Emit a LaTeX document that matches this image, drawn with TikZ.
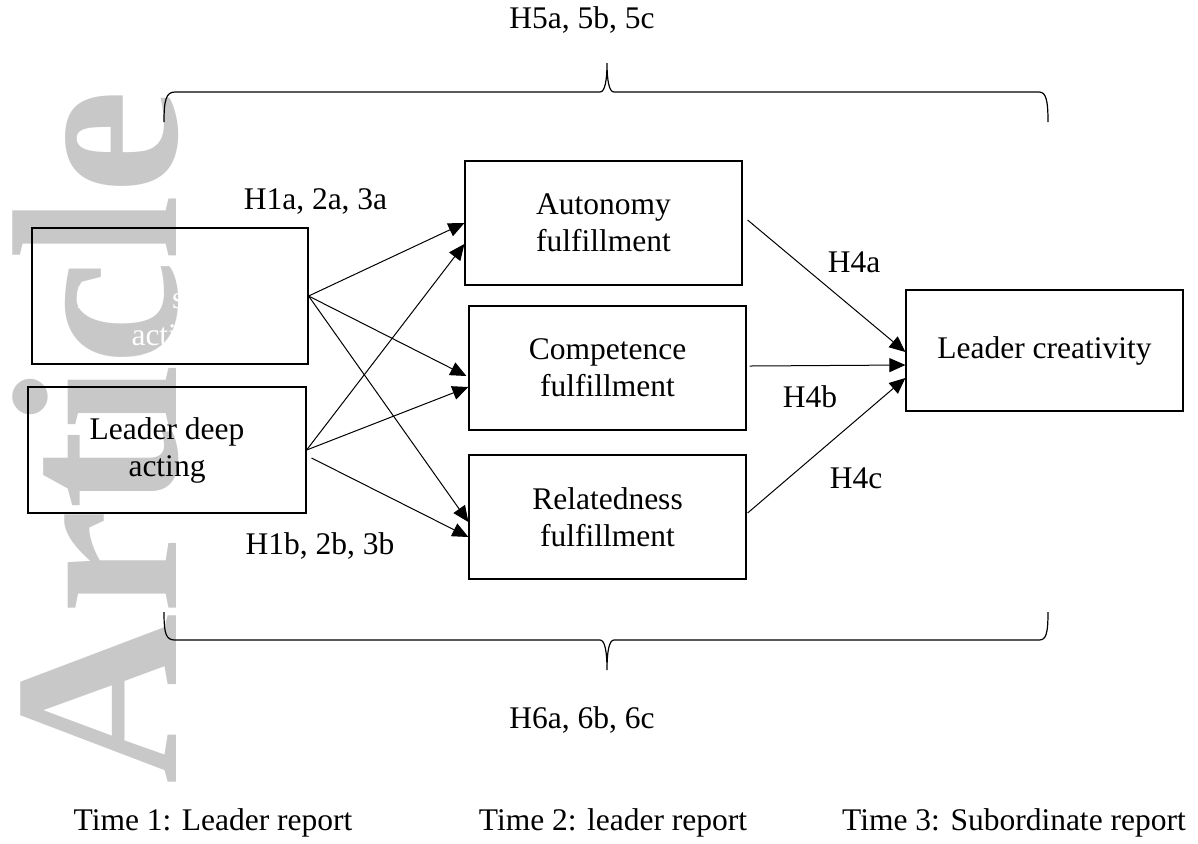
\documentclass[tikz,border=0pt]{standalone}
\usepackage{fontspec}
\setmainfont{Liberation Serif}
\usetikzlibrary{arrows.meta,calc}
\definecolor{wmgray}{RGB}{200,200,200}
\newcommand\mainfs{\fontsize{15.75}{18.5}\selectfont}
\begin{document}
\begin{tikzpicture}[x=0.5pt,y=-0.5pt,
  box/.style={draw, line width=0.6pt, inner sep=0pt, align=center,
    minimum width=138.5pt, minimum height=62pt, font=\mainfs},
  lbl/.style={anchor=base, inner sep=0pt, font=\mainfs},
  arr/.style={-{Triangle[length=8pt,width=7pt]}, line width=0.5pt},
  bracestyle/.style={line width=0.6pt},
  wmtext/.style={text=wmgray, inner sep=0pt, font=\fontsize{118}{118}\selectfont\bfseries}]
\useasboundingbox (0,0) rectangle (1198,843);

% watermark
\node[wmtext, rotate=90, anchor=base west] (wmark) at (176,785) {Article};

% boxes
\node[box] (auto) at (603.5,223) {Autonomy\\fulfillment};
\node[box] (comp) at (607.5,368) {Competence\\fulfillment};
\node[box] (rel) at (607.5,517) {Relatedness\\fulfillment};
\node[box, minimum height=60.5pt] (lc) at (1044.5,350.5) {Leader creativity};
\node[box, minimum width=138pt, minimum height=68pt] (sa) at (170,296) {};
\node[text=white, inner sep=0pt, align=center, font=\mainfs] (satext) at (170,319) {Leader surface\\acting};
\node[box, minimum width=139pt, minimum height=63pt] (da) at (167,450) {Leader deep\\acting};

% arrows
\draw[arr] (sa.east) -- (auto.west);
\draw[arr] (da.east) -- ($(auto.west)+(0,21)$);
\draw[arr] (sa.east) -- ($(comp.west)+(-2,8)$);
\draw[arr] (da.east) -- ($(comp.west)+(0,19)$);
\draw[arr] (sa.east) -- ($(rel.west)+(0,5)$);
\draw[arr] ($(da.east)+(5,8)$) -- ($(rel.west)+(0,20)$);
\draw[arr] ($(auto.east)+(5,-3)$) -- ($(lc.west)+(0,1.5)$);
\draw[arr] ($(comp.east)+(3,-2)$) -- ($(lc.west)+(0,14.5)$);
\draw[arr] ($(rel.east)+(1,-4)$) -- ($(lc.west)+(0,27.5)$);

% braces
\draw[bracestyle] (164,122) .. controls (164,100) and (166,92) .. (175,92) -- (600,92)
  .. controls (605,92) and (607,80) .. (607,63)
  .. controls (607,80) and (609,92) .. (614,92) -- (1039,92)
  .. controls (1046,92) and (1048,100) .. (1048,122);
\draw[bracestyle] (164,612) .. controls (164,634) and (166,640) .. (175,640) -- (600,640)
  .. controls (605,640) and (607,652) .. (607,670)
  .. controls (607,652) and (609,640) .. (614,640) -- (1039,640)
  .. controls (1046,640) and (1048,634) .. (1048,612);

% labels
\node[lbl] (h5) at (582,28) {H5a, 5b, 5c};
\node[lbl] (h6) at (582,728) {H6a, 6b, 6c};
\node[lbl] (h1a) at (315.5,209) {H1a, 2a, 3a};
\node[lbl] (h1b) at (320,554) {H1b, 2b, 3b};
\node[lbl] (h4a) at (854,272) {H4a};
\node[lbl] (h4b) at (810,407) {H4b};
\node[lbl] (h4c) at (856,488) {H4c};
\node[lbl] (t1) at (213,830) {Time 1: Leader report};
\node[lbl] (t2) at (613,830) {Time 2: leader report};
\node[lbl] (t3) at (1014,830) {Time 3: Subordinate report};
\end{tikzpicture}
\end{document}
